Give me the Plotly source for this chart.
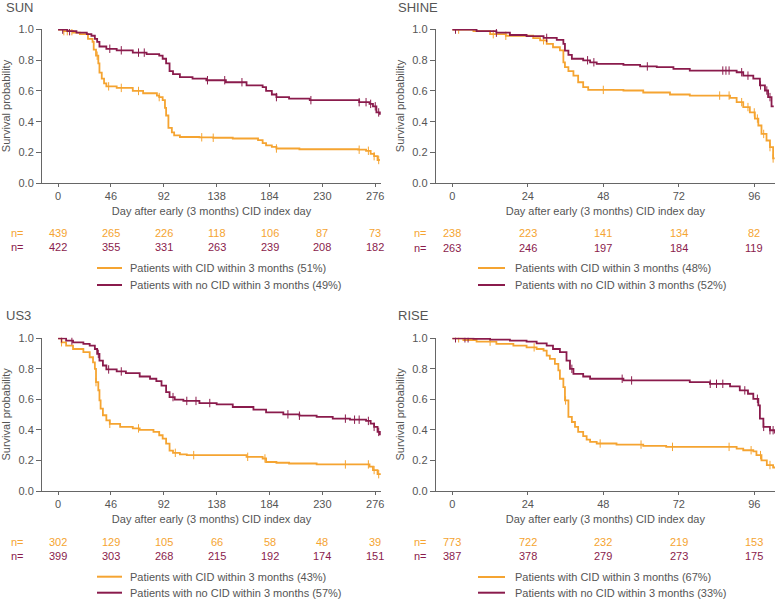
import numpy as np
import plotly.graph_objects as go

ORANGE = "#F5A431"
PURPLE = "#8A1B4C"
GRAY = "#555555"
FONT = "Arial, Liberation Sans, sans-serif"

# ---------------- data ----------------
panels = ["SUN", "SHINE", "US3", "RISE"]

sun_ticks = [0, 46, 92, 138, 184, 230, 276]
shine_ticks = [0, 24, 48, 72, 96]

# SUN
sun_cid_t = [0, 5, 13, 19, 26, 30, 31, 33, 35, 36, 38, 40, 42, 51, 65, 74, 86, 88, 91, 93, 94, 96, 99, 101, 106, 123, 135, 152, 174, 178, 181, 186, 190, 210, 261, 268, 272, 275, 278, 280]
sun_cid_s = [1.0, 0.99, 0.98, 0.97, 0.94, 0.92, 0.87, 0.83, 0.78, 0.72, 0.68, 0.65, 0.63, 0.62, 0.60, 0.585, 0.57, 0.56, 0.54, 0.49, 0.44, 0.36, 0.33, 0.31, 0.30, 0.298, 0.295, 0.29, 0.28, 0.26, 0.245, 0.235, 0.225, 0.22, 0.217, 0.21, 0.19, 0.175, 0.15, 0.15]
sun_cid_cens = [5, 8, 12, 34, 44, 55, 70, 88, 125, 135, 190, 262, 270, 275, 279]
sun_no_t = [0, 8, 16, 25, 29, 32, 34, 36, 42, 51, 65, 77, 88, 91, 94, 97, 100, 106, 117, 129, 146, 164, 178, 181, 186, 190, 201, 219, 262, 271, 274, 277, 280]
sun_no_s = [1.0, 0.99, 0.98, 0.97, 0.96, 0.94, 0.92, 0.89, 0.875, 0.865, 0.85, 0.84, 0.83, 0.81, 0.78, 0.73, 0.71, 0.69, 0.68, 0.67, 0.657, 0.636, 0.625, 0.60, 0.577, 0.56, 0.55, 0.54, 0.527, 0.516, 0.50, 0.46, 0.445]
sun_no_cens = [4, 10, 45, 55, 70, 75, 130, 145, 160, 190, 220, 262, 268, 272, 276, 279]
sun_n_cid = [439, 265, 226, 118, 106, 87, 73]
sun_n_no = [422, 355, 331, 263, 239, 208, 182]

# SHINE
shine_cid_t = [0, 6.7, 12, 17, 25.7, 27.9, 30, 32, 34.2, 35.3, 35.8, 36.9, 38.5, 40, 41.6, 43.2, 54.4, 60.7, 69.2, 75.5, 88.3, 90.4, 92.5, 94.6, 96.2, 97.3, 98.3, 99.9, 101, 102, 102.5]
shine_cid_s = [1.0, 0.99, 0.97, 0.96, 0.945, 0.93, 0.907, 0.885, 0.865, 0.787, 0.755, 0.73, 0.70, 0.657, 0.625, 0.607, 0.603, 0.59, 0.577, 0.57, 0.555, 0.527, 0.495, 0.46, 0.42, 0.375, 0.32, 0.277, 0.234, 0.16, 0.16]
shine_cid_cens = [2, 13, 17, 29, 48, 85, 88, 92, 94, 96, 97, 99, 101, 102]
shine_no_t = [0, 7.7, 14, 18.3, 23.6, 29, 33.2, 35.3, 35.8, 36.9, 38, 41.6, 43.8, 45.9, 54.4, 59.7, 65, 70.3, 75.5, 90.4, 92.5, 95.7, 97.8, 99.4, 100.4, 101.5, 102.2]
shine_no_s = [1.0, 0.99, 0.98, 0.965, 0.957, 0.946, 0.933, 0.907, 0.863, 0.835, 0.81, 0.80, 0.787, 0.776, 0.77, 0.76, 0.755, 0.744, 0.733, 0.722, 0.70, 0.68, 0.636, 0.603, 0.56, 0.50, 0.50]
shine_no_cens = [1, 14, 30, 43, 45, 62, 86, 87, 88, 92, 94, 98, 100, 101]
shine_n_cid = [238, 223, 141, 134, 82]
shine_n_no = [263, 246, 197, 184, 119]

# US3
us3_cid_t = [0, 3, 7, 13, 22, 27.5, 30.4, 32, 33, 35, 36, 37, 39, 42, 45, 54, 65, 71, 83, 88, 91, 94, 97, 100, 106, 112, 164, 178, 181, 190, 201, 225, 271, 274, 278, 280]
us3_cid_s = [1.0, 0.974, 0.952, 0.93, 0.91, 0.876, 0.843, 0.80, 0.713, 0.66, 0.593, 0.54, 0.496, 0.463, 0.44, 0.42, 0.41, 0.40, 0.387, 0.365, 0.343, 0.31, 0.265, 0.25, 0.24, 0.235, 0.224, 0.213, 0.19, 0.185, 0.18, 0.174, 0.159, 0.137, 0.11, 0.104]
us3_cid_cens = [3, 33, 45, 70, 102, 118, 165, 180, 250, 270, 275, 279]
us3_no_t = [0, 7, 13, 22, 27.5, 32, 34, 36, 39, 42, 51, 59, 71, 80, 85.5, 90, 94, 97, 101.5, 109, 123, 138, 152, 170, 181, 196, 210, 225, 239, 254, 268, 272, 275, 278, 280]
us3_no_s = [1.0, 0.985, 0.974, 0.963, 0.952, 0.93, 0.898, 0.854, 0.822, 0.796, 0.783, 0.772, 0.75, 0.735, 0.72, 0.69, 0.648, 0.615, 0.598, 0.59, 0.576, 0.567, 0.55, 0.533, 0.515, 0.502, 0.493, 0.485, 0.474, 0.467, 0.459, 0.441, 0.42, 0.387, 0.365]
us3_no_cens = [3, 12, 35, 44, 55, 100, 112, 120, 132, 200, 210, 250, 258, 262, 270, 275, 279]
us3_n_cid = [302, 129, 105, 66, 58, 48, 39]
us3_n_no = [399, 303, 268, 215, 192, 174, 151]

# RISE
rise_cid_t = [0, 3.5, 7.7, 14, 19.4, 23.6, 26.8, 29, 30, 31, 32.6, 33.7, 34.2, 35.3, 35.8, 36.9, 38, 39, 40, 41.6, 42.7, 43.8, 45.9, 52.2, 60.7, 68, 90.4, 92.5, 95.7, 96.7, 98.3, 100, 102, 102.6]
rise_cid_s = [1.0, 0.989, 0.978, 0.963, 0.952, 0.941, 0.93, 0.92, 0.887, 0.865, 0.833, 0.79, 0.735, 0.68, 0.593, 0.485, 0.452, 0.42, 0.387, 0.359, 0.337, 0.322, 0.311, 0.304, 0.296, 0.289, 0.278, 0.267, 0.26, 0.235, 0.20, 0.17, 0.154, 0.154]
rise_cid_cens = [2, 12, 26, 36, 47, 60, 70, 88, 95, 98, 101]
rise_no_t = [0, 6.7, 12, 18.3, 23.6, 26.8, 30, 32, 34.2, 36.3, 37.4, 38.5, 41.6, 43.8, 54.4, 75.5, 81.9, 88.3, 91.4, 94, 95.7, 97.3, 97.8, 98.9, 101, 102.6]
rise_no_s = [1.0, 0.996, 0.991, 0.985, 0.978, 0.967, 0.952, 0.93, 0.909, 0.854, 0.80, 0.767, 0.75, 0.735, 0.724, 0.713, 0.702, 0.685, 0.659, 0.637, 0.604, 0.561, 0.474, 0.42, 0.398, 0.376]
rise_no_cens = [1, 4, 5, 38, 54, 57, 82, 84, 86, 93, 97, 99, 101, 102]
rise_n_cid = [773, 722, 232, 219, 153]
rise_n_no = [387, 378, 279, 273, 175]

pct_cid = ["51%", "48%", "43%", "67%"]
pct_no = ["49%", "52%", "57%", "33%"]

# ---------------- layout geometry ----------------
W, H = 778, 600
def px(x):
    return x / W
def py(y):
    return 1 - y / H

cfg = [
    dict(name="SUN", ticks=sun_ticks, xr=[-14, 281], xd=[42, 381], yd=[29, 183],
         cid=(sun_cid_t, sun_cid_s, sun_cid_cens), no=(sun_no_t, sun_no_s, sun_no_cens),
         ncid=sun_n_cid, nno=sun_n_no, title_xy=(4, 8), nlabel_x=17, nrows=(233, 247),
         leg_x=(97, 122, 128), leg_y=(268, 285)),
    dict(name="SHINE", ticks=shine_ticks, xr=[-5.3, 102.6], xd=[435.7, 775], yd=[29, 183],
         cid=(shine_cid_t, shine_cid_s, shine_cid_cens), no=(shine_no_t, shine_no_s, shine_no_cens),
         ncid=shine_n_cid, nno=shine_n_no, title_xy=(396, 8), nlabel_x=420, nrows=(233, 248),
         leg_x=(478, 505, 513), leg_y=(268, 285)),
    dict(name="US3", ticks=sun_ticks, xr=[-14, 281], xd=[42, 381], yd=[337.7, 491],
         cid=(us3_cid_t, us3_cid_s, us3_cid_cens), no=(us3_no_t, us3_no_s, us3_no_cens),
         ncid=us3_n_cid, nno=us3_n_no, title_xy=(4, 315), nlabel_x=17, nrows=(541.7, 556),
         leg_x=(97, 122, 128), leg_y=(576.7, 592.7)),
    dict(name="RISE", ticks=shine_ticks, xr=[-5.3, 102.6], xd=[435.7, 775], yd=[337.7, 491],
         cid=(rise_cid_t, rise_cid_s, rise_cid_cens), no=(rise_no_t, rise_no_s, rise_no_cens),
         ncid=rise_n_cid, nno=rise_n_no, title_xy=(396, 315), nlabel_x=421, nrows=(541.7, 555.7),
         leg_x=(478, 505, 513), leg_y=(577, 592.7)),
]

fig = go.Figure()
annotations = []
shapes = []
layout = {}

def step_at(t_arr, s_arr, t):
    t_arr = np.asarray(t_arr, dtype=float)
    idx = np.searchsorted(t_arr, t, side="right") - 1
    return np.asarray(s_arr, dtype=float)[np.clip(idx, 0, len(s_arr) - 1)]

for i, c in enumerate(cfg):
    k = i + 1
    xa = "x" if k == 1 else f"x{k}"
    ya = "y" if k == 1 else f"y{k}"
    series = [
        (c["cid"], ORANGE, f"Patients with CID within 3 months ({pct_cid[i]})"),
        (c["no"], PURPLE, f"Patients with no CID within 3 months ({pct_no[i]})"),
    ]
    for j, ((t, s, cens), col, lab) in enumerate(series):
        fig.add_trace(go.Scatter(x=t, y=s, mode="lines", line=dict(color=col, width=1.8, shape="hv"),
                                 name=lab, showlegend=False, xaxis=xa, yaxis=ya, hoverinfo="skip"))
        cy = step_at(t, s, np.asarray(cens, dtype=float))
        fig.add_trace(go.Scatter(x=cens, y=cy, mode="markers", showlegend=False,
                                 marker=dict(symbol="line-ns", size=6, line=dict(color=col, width=1)),
                                 xaxis=xa, yaxis=ya, hoverinfo="skip"))
        # legend entry (drawn manually for tight row spacing)
        lx0, lx1, tx = c["leg_x"]
        ly = c["leg_y"][j]
        shapes.append(dict(type="line", xref="paper", yref="paper", x0=px(lx0), x1=px(lx1),
                           y0=py(ly), y1=py(ly), line=dict(color=col, width=2)))
        annotations.append(dict(text=lab, x=px(tx), y=py(ly), xref="paper", yref="paper",
                                xanchor="left", yanchor="middle", showarrow=False,
                                font=dict(family=FONT, size=11, color=GRAY)))

    xkey = "xaxis" if k == 1 else f"xaxis{k}"
    ykey = "yaxis" if k == 1 else f"yaxis{k}"
    layout[xkey] = dict(domain=[px(c["xd"][0]), px(c["xd"][1])], range=c["xr"], anchor=ya,
                        tickvals=c["ticks"], ticktext=[str(v) for v in c["ticks"]], automargin=False,
                        showline=True, linecolor="#666666", linewidth=1, ticks="outside", ticklen=3,
                        tickcolor="#666666", showgrid=False, zeroline=False,
                        tickfont=dict(family=FONT, size=11, color=GRAY),
                        title=dict(text="Day after early (3 months) CID index day", standoff=6,
                                   font=dict(family=FONT, size=11, color=GRAY)))
    layout[ykey] = dict(domain=[py(c["yd"][1]), py(c["yd"][0])], range=[0, 1.004], anchor=xa,
                        tickvals=[0, 0.2, 0.4, 0.6, 0.8, 1.0], tickformat=".1f", automargin=False,
                        showline=True, linecolor="#666666", linewidth=1, ticks="outside", ticklen=5,
                        tickcolor="#666666", showgrid=False, zeroline=False,
                        tickfont=dict(family=FONT, size=11, color=GRAY),
                        title=dict(text="Survival probability", standoff=5,
                                   font=dict(family=FONT, size=11, color=GRAY)))

    annotations.append(dict(text=c["name"], x=px(c["title_xy"][0]), y=py(c["title_xy"][1]),
                            xref="paper", yref="paper", xanchor="left", yanchor="middle",
                            showarrow=False, font=dict(family=FONT, size=13, color=GRAY)))
    for row_y, vals, col in [(c["nrows"][0], c["ncid"], ORANGE), (c["nrows"][1], c["nno"], PURPLE)]:
        annotations.append(dict(text="n=", x=px(c["nlabel_x"]), y=py(row_y), xref="paper", yref="paper",
                                xanchor="center", yanchor="middle", showarrow=False,
                                font=dict(family=FONT, size=11, color=col)))
        for tv, nv in zip(c["ticks"], vals):
            annotations.append(dict(text=str(nv), x=tv, y=py(row_y), xref=xa, yref="paper",
                                    xanchor="center", yanchor="middle", showarrow=False,
                                    font=dict(family=FONT, size=11, color=col)))

fig.update_layout(width=W, height=H, margin=dict(l=0, r=0, t=0, b=0, autoexpand=False),
                  plot_bgcolor="white", paper_bgcolor="white", showlegend=False,
                  font=dict(family=FONT, size=11, color=GRAY),
                  annotations=annotations, shapes=shapes, **layout)

fig.write_html("out.html", config={"displayModeBar": False},
               post_script="document.body.style.margin='0px';document.body.style.overflow='hidden';")
